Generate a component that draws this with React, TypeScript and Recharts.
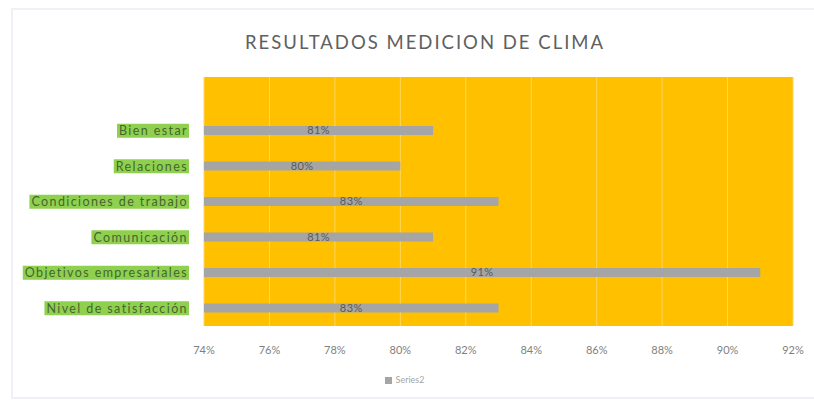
import { useLayoutEffect, useRef, useState } from "react";
import {
  BarChart,
  Bar,
  XAxis,
  YAxis,
  CartesianGrid,
  LabelList,
  Legend,
} from "recharts";

const categories = [
  "Bien estar",
  "Relaciones",
  "Condiciones de trabajo",
  "Comunicación",
  "Objetivos empresariales",
  "Nivel de satisfacción",
];
const series2 = [81, 80, 83, 81, 91, 83];
const xTicks = [74, 76, 78, 80, 82, 84, 86, 88, 90, 92];

const data = categories.map((name, i) => ({ name, Series2: series2[i] }));

const FONT = "Lato, 'Open Sans', sans-serif";

function GreenTick(props: any) {
  const { x, y, payload } = props;
  const ref = useRef<SVGTextElement>(null);
  const [w, setW] = useState(0);
  useLayoutEffect(() => {
    if (ref.current) setW(ref.current.getBBox().width);
  }, [payload.value]);
  return (
    <g transform={`translate(${x},${y})`}>
      <rect x={-w - 2} y={-7} width={w + 3} height={14} fill="#8fd14f" />
      <text
        ref={ref}
        x={0}
        y={0}
        dy="0.35em"
        textAnchor="end"
        fill="#46652f"
        fontSize={12.5}
        letterSpacing={1.4}
        fontFamily={FONT}
      >
        {payload.value}
      </text>
    </g>
  );
}

export default function App() {
  return (
    <div
      style={{
        position: "absolute",
        left: 0,
        top: 0,
        width: 814,
        height: 402,
        background: "#fff",
        fontFamily: FONT,
      }}
    >
      <div
        style={{
          position: "absolute",
          left: 11,
          top: 8,
          width: 803,
          height: 387,
          borderLeft: "2px solid #eef2f6",
          borderTop: "2px solid #eef2f6",
          borderBottom: "2px solid #eef2f6",
        }}
      />
      <div
        style={{
          position: "absolute",
          left: 0,
          width: 814,
          top: 31,
          textAlign: "center",
          paddingLeft: 18,
          fontSize: 18.5,
          letterSpacing: 2,
          color: "#606060",
          fontFamily: FONT,
        }}
      >
        RESULTADOS MEDICION DE CLIMA
      </div>
      <div style={{ position: "absolute", left: 0, top: 0 }}>
        <BarChart
          width={814}
          height={402}
          data={data}
          layout="vertical"
          margin={{ top: 77, right: 21, bottom: 33, left: 10 }}
        >
          <CartesianGrid
            horizontal={false}
            stroke="#ffd65c"
            fill="#ffc000"
            fillOpacity={1}
          />
          <XAxis
            type="number"
            domain={[74, 92]}
            ticks={xTicks}
            tickFormatter={(v: number) => `${v}%`}
            axisLine={false}
            tickLine={false}
            tickMargin={14}
            height={32}
            tick={{ fill: "#7f7f7f", fontSize: 11, fontFamily: FONT }}
          />
          <YAxis
            type="category"
            dataKey="name"
            width={194}
            padding={{ top: 36 }}
            axisLine={false}
            tickLine={false}
            tickMargin={10}
            tick={<GreenTick />}
          />
          <Bar
            dataKey="Series2"
            fill="#a5a5a5"
            barSize={9}
            isAnimationActive={false}
          >
            <LabelList
              dataKey="Series2"
              position="center"
              formatter={(v: any) => `${v}%`}
              fill="#595959"
              fontSize={11}
              letterSpacing={0.4}
              fontFamily={FONT}
            />
          </Bar>
          <Legend
            iconType="square"
            iconSize={7}
            wrapperStyle={{
              fontSize: 9,
              color: "#7f7f7f",
              fontFamily: FONT,
              top: 374,
              paddingLeft: 8,
            }}
          />
        </BarChart>
      </div>
    </div>
  );
}
